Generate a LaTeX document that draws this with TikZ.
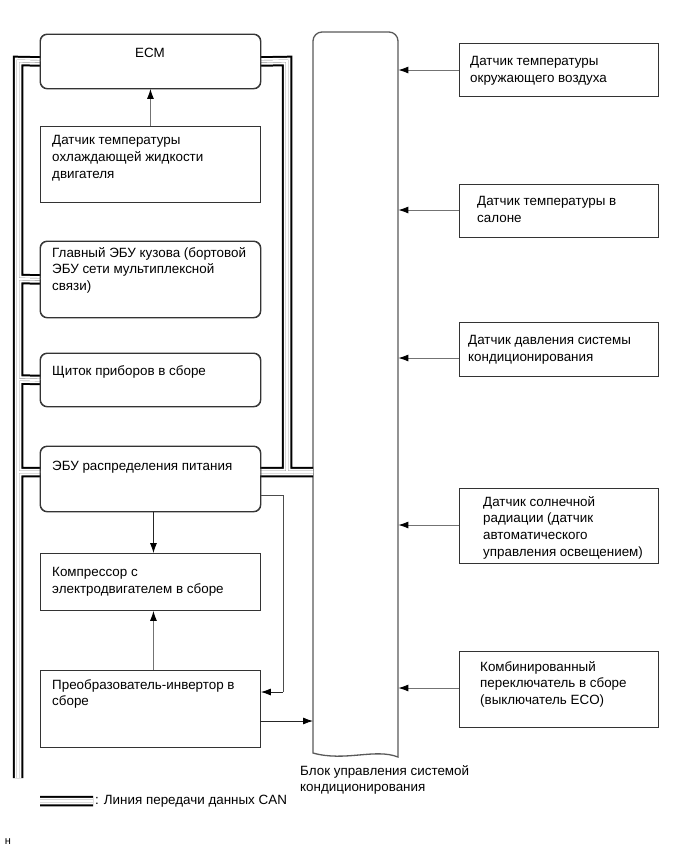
\documentclass[tikz,border=0pt]{standalone}
\usepackage{fontspec}
\setmainfont{Liberation Sans}
\usetikzlibrary{arrows.meta}
\tikzset{
  box/.style={draw=black!80, line width=0.9pt, fill=white, inner sep=0pt, anchor=north west, minimum width=220pt},
  rbox/.style={box, rounded corners=7pt},
  sbox/.style={box, minimum width=199pt},
  txt/.style={inner sep=0pt, anchor=north west, align=left, font=\fontsize{13.4}{16.8}\selectfont},
  arr/.style={line width=0.9pt, draw=black!55, -{Latex[length=10pt,width=7pt,color=black]}},
  darr/.style={line width=0.8pt, draw=black!85, -{Latex[length=10pt,width=7pt,color=black]}},
  thin/.style={line width=0.8pt, draw=black!70},
}
\newcommand{\canpaths}{%
  (ecm.west) -- (lbtop) -- (lbbot)
  (lbbody) -- (body.west)
  (lbipc) -- (ipc.west)
  (lbpwr) -- (pwrw)
  (ecm.east) -- (rbtop) -- (rbjoin)
  (pwre) -- (acw)
  (lega) -- (legb)
}
\begin{document}
\begin{tikzpicture}[x=1pt,y=-1pt]
\useasboundingbox (0,0) rectangle (690,855);

% left boxes
\node[rbox, minimum height=54pt] (ecm) at (40,34) {};
\node[box, minimum height=76pt] (cool) at (40,126) {};
\node[rbox, minimum height=76pt] (body) at (40,241) {};
\node[rbox, minimum height=53pt] (ipc) at (40,353) {};
\node[rbox, minimum height=65pt] (pwr) at (40,446) {};
\node[box, minimum height=57pt] (comp) at (40,553) {};
\node[box, minimum height=77pt] (inv) at (40,670) {};

% AC ECU (shape drawn by hand, node used for anchors)
\node[inner sep=0pt, anchor=north west, minimum width=85pt, minimum height=722pt] (ac) at (313,32) {};
\draw[draw=black!65, line width=1.3pt, fill=white, rounded corners=9pt]
  (313,753) -- (313,32) -- (398,32) [sharp corners]-- (398,757)
  .. controls (375,748) and (345,762) .. (313,753) -- cycle;

% right sensors
\node[sbox, minimum height=53pt] (s1) at (459,43) {};
\node[sbox, minimum height=53pt] (s2) at (459,184) {};
\node[sbox, minimum height=54pt] (s3) at (459,322) {};
\node[sbox, minimum height=75pt] (s4) at (459,488) {};
\node[sbox, minimum height=76pt] (s5) at (459,651) {};

% CAN bus coordinates
\coordinate (lbtop) at (18,61);
\coordinate (lbbot) at (18,778);
\coordinate (lbbody) at (18,279);
\coordinate (lbipc) at (18,379.5);
\coordinate (lbpwr) at (18,472);
\coordinate (pwrw) at (40,472);
\coordinate (rbtop) at (287,61);
\coordinate (rbjoin) at (287,472);
\coordinate (pwre) at (260,472);
\coordinate (acw) at (313,472);
\coordinate (lega) at (40,801);
\coordinate (legb) at (93,801);

\begin{scope}[line join=miter, line cap=butt]
\draw[black, line width=10.5pt] \canpaths;
\draw[white, line width=6.5pt] \canpaths;
\draw[black!45, line width=2.8pt] \canpaths;
\draw[white, line width=2.0pt] \canpaths;
\end{scope}

% redraw box borders over bus ends
\foreach \n in {ecm,body,ipc,pwr}{\draw[draw=black!80, line width=0.9pt, rounded corners=7pt] (\n.north west) rectangle (\n.south east);}

% texts
\node[txt, anchor=center] (tecm) at (150,53) {ECM};
\node[txt] (tcool) at (52,135) {Датчик температуры\\охлаждающей жидкости\\двигателя};
\node[txt] (tbody) at (52,247) {Главный ЭБУ кузова (бортовой\\ЭБУ сети мультиплексной\\связи)};
\node[txt] (tipc) at (52,365) {Щиток приборов в сборе};
\node[txt] (tpwr) at (52,461) {ЭБУ распределения питания};
\node[txt] (tcomp) at (52,567) {Компрессор с\\электродвигателем в сборе};
\node[txt] (tinv) at (52,679) {Преобразователь-инвертор в\\сборе};
\node[txt] (ts1) at (470,56) {Датчик температуры\\окружающего воздуха};
\node[txt] (ts2) at (477,196) {Датчик температуры в\\салоне};
\node[txt] (ts3) at (468,335) {Датчик давления системы\\кондиционирования};
\node[txt] (ts4) at (483,496) {Датчик солнечной\\радиации (датчик\\автоматического\\управления освещением)};
\node[txt] (ts5) at (480,661) {Комбинированный\\переключатель в сборе\\(выключатель ECO)};
\node[txt] (tac) at (300,765) {Блок управления системой\\кондиционирования};
\node[txt, anchor=west] (tleg) at (95,801) {: Линия передачи данных CAN};
\node[txt, anchor=center, font=\fontsize{11}{13}\selectfont] (tcode) at (8,842) {н};

% connectors
\draw[arr] (cool.north) -- (ecm.south);
\draw[darr] ([xshift=3pt]pwr.south) -- ([xshift=3pt]comp.north);
\draw[arr] ([xshift=3pt]inv.north) -- ([xshift=3pt]comp.south);
\coordinate (pk1) at (283,495);
\coordinate (pk2) at (283,692);
\draw[thin] (pwr.east |- pk1) -- (pk1) -- (pk2);
\draw[darr] (pk2) -- (inv.east |- pk2);
\coordinate (ia) at (260,721);
\draw[darr] (ia) -- (ia -| ac.west);
\draw[arr] (s1.west |- 0,70) -- (ac.east |- 0,70);
\draw[arr] (s2.west |- 0,210) -- (ac.east |- 0,210);
\draw[arr] (s3.west |- 0,358) -- (ac.east |- 0,358);
\draw[arr] (s4.west |- 0,525) -- (ac.east |- 0,525);
\draw[arr] (s5.west |- 0,688) -- (ac.east |- 0,688);
\end{tikzpicture}
\end{document}
